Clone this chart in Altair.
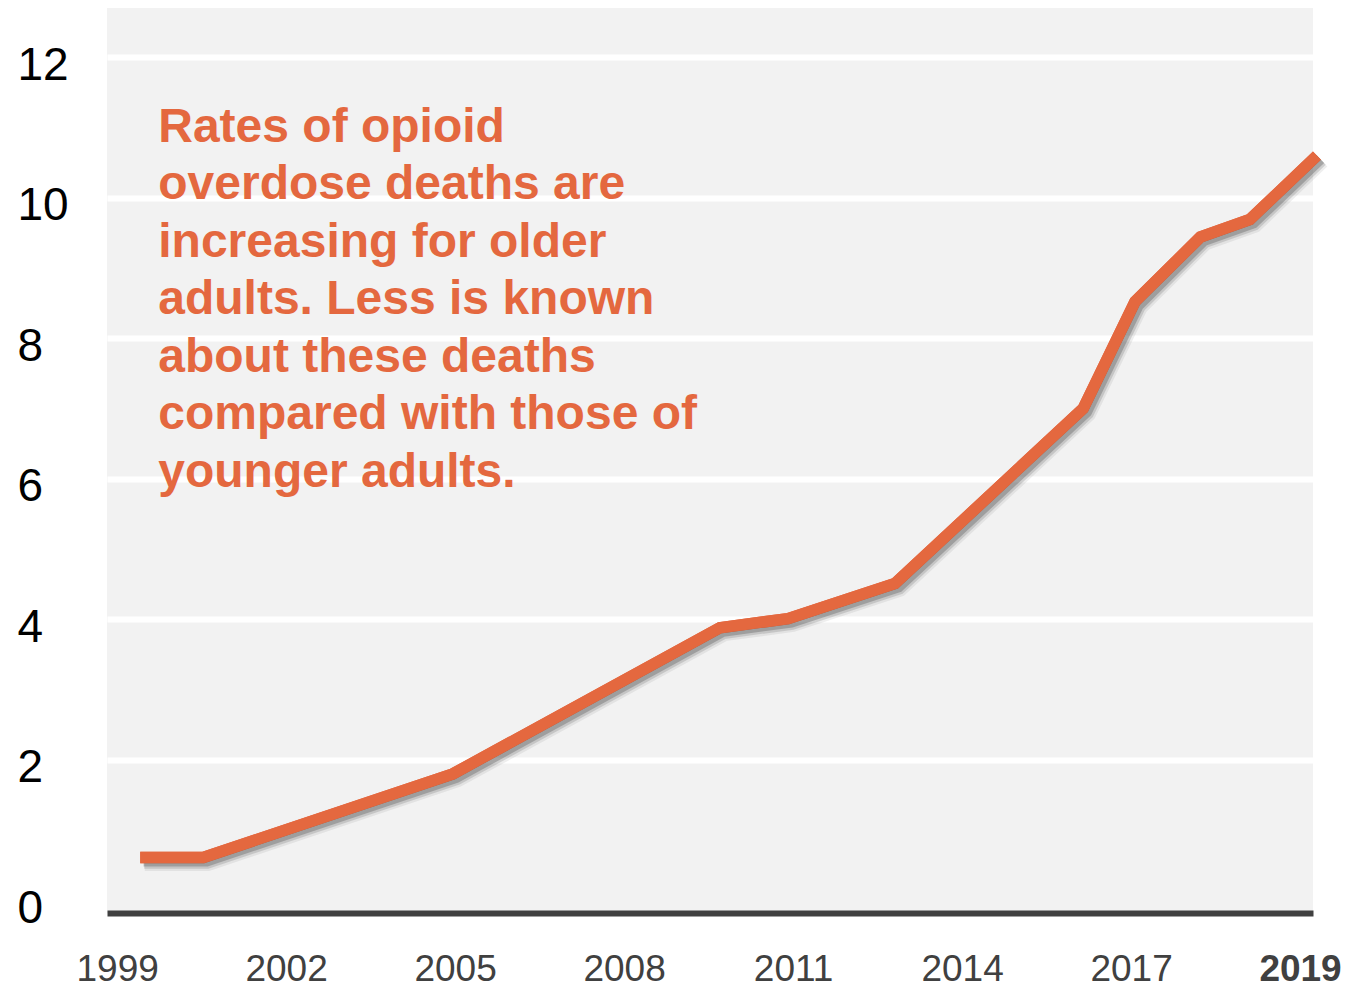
import altair as alt
import pandas as pd

# Data (x in axis-year units as drawn)
years = [1999.41, 2000.53, 2004.96, 2009.70, 2010.91, 2012.81, 2016.15, 2017.07, 2018.23, 2019.11, 2020.30]
rates = [0.61, 0.61, 1.80, 3.88, 4.01, 4.51, 7.00, 8.52, 9.44, 9.69, 10.60]

tick_years = [1999, 2002, 2005, 2008, 2011, 2014, 2017, 2020]
tick_labels = ["1999", "2002", "2005", "2008", "2011", "2014", "2017", "2019"]
y_ticks = [0, 2, 4, 6, 8, 10, 12]

note_lines = [
    "Rates of opioid",
    "overdose deaths are",
    "increasing for older",
    "adults. Less is known",
    "about these deaths",
    "compared with those of",
    "younger adults.",
]
note_pos = {"year": 1999.73, "rate": 10.80}

ORANGE = "#E4683F"
FONT = "Liberation Sans"

df = pd.DataFrame({"year": years, "rate": rates})

label_map = "{" + ",".join(f"'{v}':'{l}'" for v, l in zip(tick_years, tick_labels)) + "}"

x_scale = alt.Scale(domain=[1998.82, 2020.23], nice=False, zero=False)
y_scale = alt.Scale(domain=[-0.18, 12.70], nice=False, zero=False)

x_enc = alt.X(
    "year:Q",
    scale=x_scale,
    axis=alt.Axis(
        values=tick_years,
        labelExpr=label_map + "[datum.value + '']",
        title=None,
        grid=False,
        ticks=False,
        domain=True,
        domainColor="#404040",
        domainWidth=6,
        labelFont=FONT,
        labelFontSize=37,
        labelColor="#404040",
        labelPadding=38,
        labelFontWeight={"condition": {"test": "datum.value == 2020", "value": "bold"}, "value": "normal"},
        labelFlush=False,
        labelOverlap=False,
    ),
)
y_enc = alt.Y(
    "rate:Q",
    scale=y_scale,
    axis=alt.Axis(
        values=y_ticks,
        format="d",
        title=None,
        grid=True,
        gridColor="white",
        gridWidth=6,
        gridOpacity={"condition": {"test": "datum.value == 0", "value": 0}, "value": 1},
        ticks=False,
        domain=False,
        labelFont=FONT,
        labelFontSize=46,
        labelColor="#000000",
        labelAlign="left",
        labelPadding=90,
        labelOffset=8,
        labelFlush=False,
        labelOverlap=False,
    ),
)

base = alt.Chart(df)

shadows = []
for w, op, dx, dy in [(17, 0.10, 0.08, 0.07), (14, 0.20, 0.07, 0.06), (11, 0.35, 0.06, 0.05)]:
    shadows.append(
        base.transform_calculate(sx=f"datum.year + {dx}", sy=f"datum.rate - {dy}")
        .mark_line(color="#555555", strokeWidth=w, opacity=op, strokeJoin="miter", strokeCap="butt", clip=False)
        .encode(x=alt.X("sx:Q", scale=x_scale), y=alt.Y("sy:Q", scale=y_scale))
    )

line = base.mark_line(color=ORANGE, strokeWidth=11.5, strokeJoin="miter", strokeCap="butt", clip=False).encode(
    x=x_enc, y=y_enc
)

note = alt.Chart(pd.DataFrame([note_pos])).mark_text(
    text=note_lines,
    align="left",
    baseline="alphabetic",
    font=FONT,
    fontSize=48,
    fontWeight="bold",
    color=ORANGE,
    lineHeight=57.5,
).encode(x=alt.X("year:Q", scale=x_scale), y=alt.Y("rate:Q", scale=y_scale))

chart = (
    alt.layer(line, *shadows, line, note)
    .properties(
        width=1206,
        height=905,
        background="white",
        padding={"left": 99, "top": 0, "right": 40, "bottom": 90},
        autosize=alt.AutoSizeParams(type="none"),
    )
    .configure_view(fill="#F2F2F2", stroke=None)
)

chart.save("out.html", embed_options={"renderer": "svg", "actions": False})
